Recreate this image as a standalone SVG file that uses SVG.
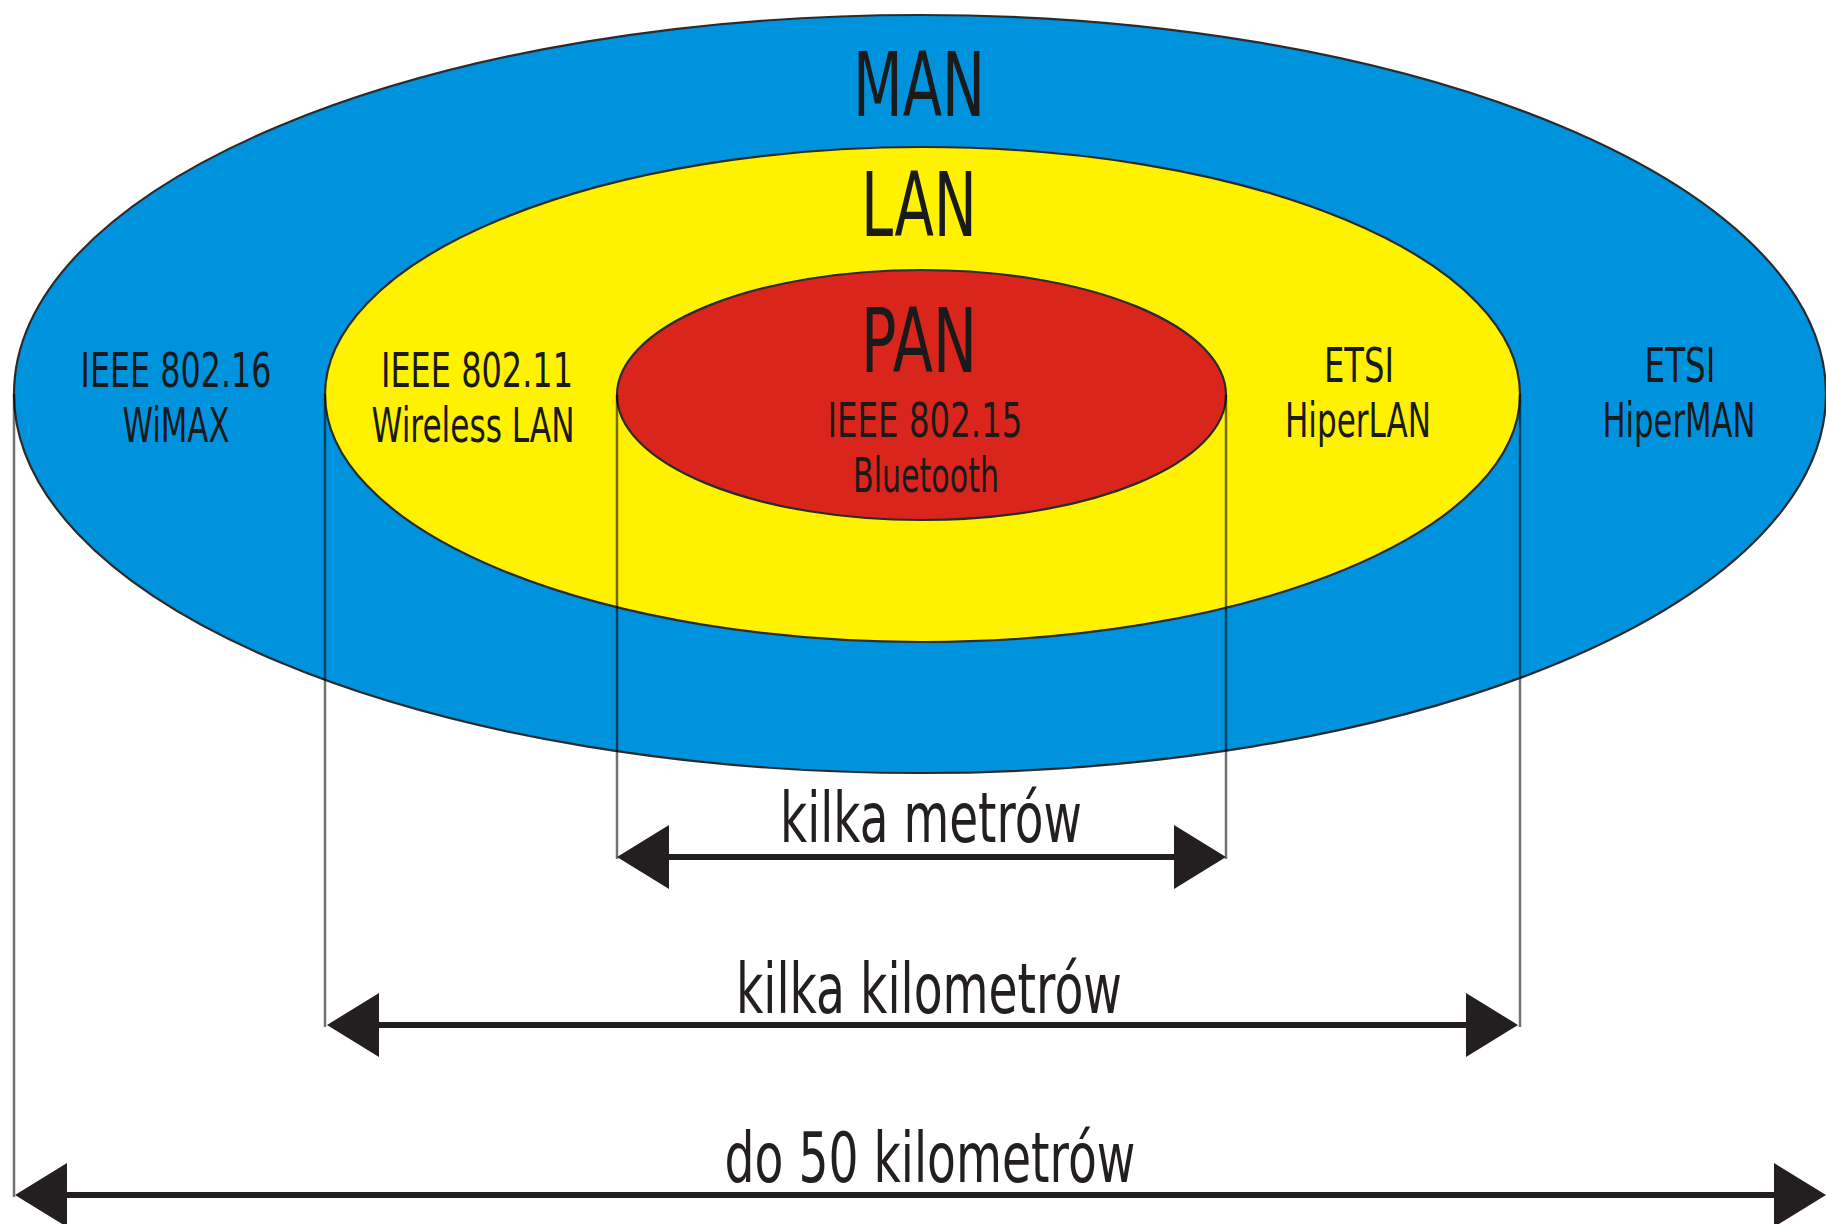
<svg xmlns="http://www.w3.org/2000/svg" width="1826" height="1224" viewBox="0 0 1826 1224">
  <style>
    .area { stroke: #2b2b2b; stroke-width: 2.2; }
    .man { fill: #0093dd; }
    .lan { fill: #fff200; }
    .pan { fill: #da251d; }
    .big { font-family: "DejaVu Sans", "Liberation Sans", sans-serif; font-size: 89px; fill: #1a1a1a; text-anchor: middle; }
    .std { font-family: "DejaVu Sans", "Liberation Sans", sans-serif; font-size: 48px; fill: #1a1a1a; text-anchor: middle; }
    .dim { font-family: "DejaVu Sans", "Liberation Sans", sans-serif; font-size: 70px; fill: #231f20; text-anchor: middle; }
    .ext { stroke: #000; stroke-opacity: 0.55; stroke-width: 2.5; fill: none; }
    .arrow { stroke: #231f20; stroke-width: 6; fill: none; marker-start: url(#head); marker-end: url(#head); }
  </style>
  <defs>
    <marker id="head" markerUnits="userSpaceOnUse" markerWidth="52" markerHeight="66" viewBox="-2 -33 52 66" refX="0" refY="0" orient="auto-start-reverse">
      <path d="M-2,-32 L50,0 L-2,32 Z" fill="#231f20"/>
    </marker>
  </defs>
  <rect width="1826" height="1224" fill="#ffffff"/>

  <g id="node-man">
    <ellipse class="area man" cx="920" cy="394" rx="906" ry="379"/>
    <text class="big" x="919" y="116" textLength="132" lengthAdjust="spacingAndGlyphs">MAN</text>
    <text class="std" x="176" y="387" textLength="191" lengthAdjust="spacingAndGlyphs">IEEE 802.16</text>
    <text class="std" x="176" y="442" textLength="107" lengthAdjust="spacingAndGlyphs">WiMAX</text>
    <text class="std" x="1680" y="382" textLength="71" lengthAdjust="spacingAndGlyphs">ETSI</text>
    <text class="std" x="1679" y="437" textLength="153" lengthAdjust="spacingAndGlyphs">HiperMAN</text>
  </g>

  <g id="node-lan">
    <ellipse class="area lan" cx="922.5" cy="394.5" rx="597.5" ry="247.5"/>
    <text class="big" x="919" y="236" textLength="116" lengthAdjust="spacingAndGlyphs">LAN</text>
    <text class="std" x="477" y="387" textLength="192" lengthAdjust="spacingAndGlyphs">IEEE 802.11</text>
    <text class="std" x="473" y="442" textLength="203" lengthAdjust="spacingAndGlyphs">Wireless LAN</text>
    <text class="std" x="1359" y="382" textLength="70" lengthAdjust="spacingAndGlyphs">ETSI</text>
    <text class="std" x="1358" y="437" textLength="146" lengthAdjust="spacingAndGlyphs">HiperLAN</text>
  </g>

  <g id="node-pan">
    <ellipse class="area pan" cx="921.5" cy="395" rx="304.5" ry="125"/>
    <text class="big" x="919" y="372" textLength="116" lengthAdjust="spacingAndGlyphs">PAN</text>
    <text class="std" x="925" y="437" textLength="195" lengthAdjust="spacingAndGlyphs">IEEE 802.15</text>
    <text class="std" x="926" y="492" textLength="146" lengthAdjust="spacingAndGlyphs">Bluetooth</text>
  </g>

  <g id="connectors">
    <line class="ext" x1="14" y1="394" x2="14" y2="1197"/>
    <line class="ext" x1="325" y1="394" x2="325" y2="1027"/>
    <line class="ext" x1="617" y1="395" x2="617" y2="859"/>
    <line class="ext" x1="1226" y1="395" x2="1226" y2="859"/>
    <line class="ext" x1="1520" y1="394" x2="1520" y2="1027"/>

    <line class="arrow" x1="667" y1="857" x2="1176" y2="857"/>
    <line class="arrow" x1="377" y1="1025" x2="1468" y2="1025"/>
    <line class="arrow" x1="65" y1="1195" x2="1776" y2="1195"/>

    <text class="dim" x="931" y="842" textLength="302" lengthAdjust="spacingAndGlyphs">kilka metrów</text>
    <text class="dim" x="929" y="1013" textLength="386" lengthAdjust="spacingAndGlyphs">kilka kilometrów</text>
    <text class="dim" x="930" y="1182" textLength="411" lengthAdjust="spacingAndGlyphs">do 50 kilometrów</text>
  </g>
</svg>
